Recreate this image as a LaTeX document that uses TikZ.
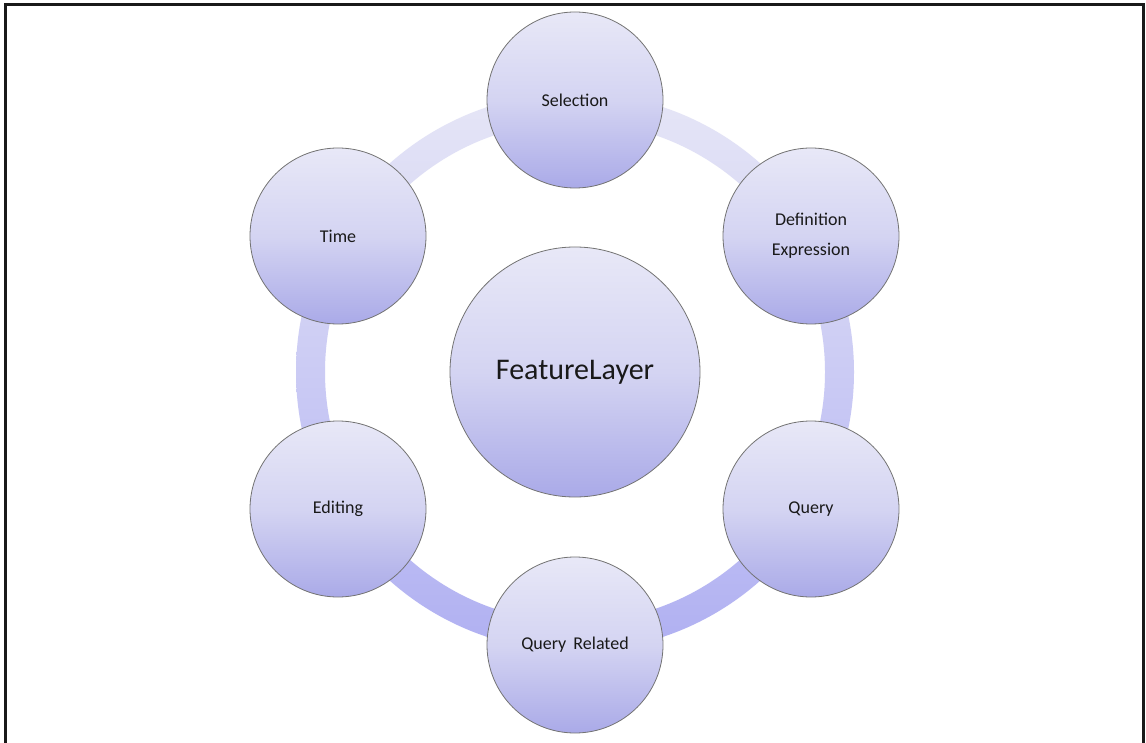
\documentclass[tikz,border=0pt]{standalone}
\usepackage{fontspec}
\setmainfont{Carlito}
\begin{document}
\begin{tikzpicture}[x=1pt,y=-1pt,
  bubble/.style={circle,draw=black!55,line width=0.8pt,inner sep=0pt,minimum size=176pt,
    top color=circTop,bottom color=circBot,middle color=circMid,text=black!90,align=center,
    font=\fontsize{18}{30}\selectfont},
  hub/.style={bubble,minimum size=250pt,font=\fontsize{30}{36}\selectfont}]
\definecolor{circTop}{RGB}{232,232,247}
\definecolor{circMid}{RGB}{212,212,242}
\definecolor{circBot}{RGB}{170,170,232}
\definecolor{ringTop}{RGB}{230,230,246}
\definecolor{ringBot}{RGB}{176,176,242}
\useasboundingbox (0,0) rectangle (1146,743);
\fill[white] (0,0) rectangle (1146,743);
% ring
\coordinate (c) at (575,372);
\path[top color=ringTop,bottom color=ringBot,even odd rule]
  (575,372) circle[radius=279] (575,372) circle[radius=250];
% outer nodes
\node[bubble] (sel) at (575,100) {Selection};
\node[bubble] (def) at (811,236) {Definition\\Expression};
\node[bubble] (qry) at (811,509) {Query};
\node[bubble] (qrel) at (575,645) {Query\hspace{3pt} Related};
\node[bubble] (edit) at (338,509) {Editing};
\node[bubble] (time) at (338,236) {Time};
\node[hub] (fl) at (575,372) {FeatureLayer};
% frame
\draw[line width=3pt,black!90] (5,743) -- (5,5) -- (1143,5) -- (1143,743);
\end{tikzpicture}
\end{document}
